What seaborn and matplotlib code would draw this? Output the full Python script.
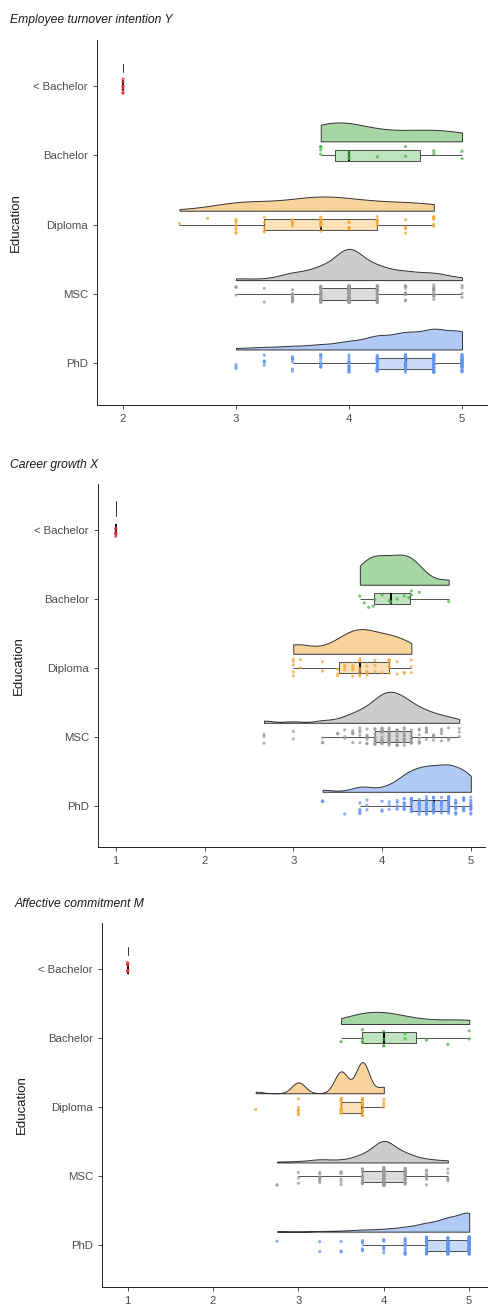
import numpy as np
import pandas as pd
import matplotlib.pyplot as plt
import matplotlib.colors as mcolors
import seaborn as sns

education = ["< Bachelor", "Bachelor", "Diploma", "MSC", "PhD"]
group_colors = ["#E8323A", "#4DAF4A", "#F2A93B", "#9A9A9A", "#6495ED"]

# Employee turnover intention Y : score levels and number of respondents at each level
y_lessbach_levels = [2.0]
y_lessbach_counts = [7]
y_bach_levels = [3.75, 4.0, 4.25, 4.5, 4.75, 5.0]
y_bach_counts = [4, 4, 1, 2, 2, 2]
y_dipl_levels = [2.5, 2.75, 3.0, 3.25, 3.5, 3.75, 4.0, 4.25, 4.5, 4.75]
y_dipl_counts = [1, 1, 8, 5, 6, 12, 7, 6, 5, 6]
y_msc_levels = [3.0, 3.25, 3.5, 3.75, 4.0, 4.25, 4.5, 4.75, 5.0]
y_msc_counts = [3, 2, 12, 20, 55, 22, 14, 12, 4]
y_phd_levels = [3.0, 3.25, 3.5, 3.75, 4.0, 4.25, 4.5, 4.75, 5.0]
y_phd_counts = [3, 5, 7, 10, 16, 27, 33, 40, 37]

# Career growth X
x_lessbach_levels = [1.0]
x_lessbach_counts = [6]
x_bach_levels = [3.75, 3.8, 3.85, 3.9, 3.92, 4.0, 4.08, 4.1, 4.17, 4.25, 4.3, 4.33, 4.42, 4.75]
x_bach_counts = [1, 1, 1, 1, 1, 1, 1, 1, 1, 1, 1, 2, 1, 1]
x_dipl_levels = [3.0, 3.08, 3.33, 3.5, 3.58, 3.67, 3.75, 3.83, 3.92, 4.0, 4.08, 4.17, 4.25, 4.33]
x_dipl_counts = [5, 2, 2, 3, 3, 4, 6, 4, 3, 1, 6, 2, 2, 3]
x_msc_levels = [2.67, 3.0, 3.33, 3.5, 3.58, 3.67, 3.75, 3.83, 3.92, 4.0,
                4.08, 4.17, 4.25, 4.33, 4.42, 4.5, 4.58, 4.67, 4.75, 4.87]
x_msc_counts = [3, 2, 3, 2, 3, 5, 5, 8, 10, 14, 16, 14, 12, 9, 7, 6, 4, 4, 3, 3]
x_phd_levels = [3.33, 3.58, 3.75, 3.83, 4.0, 4.08, 4.17, 4.25, 4.33, 4.42,
                4.5, 4.58, 4.67, 4.75, 4.83, 4.92, 5.0]
x_phd_counts = [3, 1, 5, 3, 3, 3, 5, 9, 12, 12, 13, 13, 13, 15, 12, 11, 12]

# Affective commitment M
m_lessbach_levels = [1.0]
m_lessbach_counts = [7]
m_bach_levels = [3.5, 3.75, 4.0, 4.25, 4.5, 4.75, 5.0]
m_bach_counts = [1, 4, 4, 2, 1, 1, 2]
m_dipl_levels = [2.5, 3.0, 3.5, 3.75, 4.0]
m_dipl_counts = [1, 7, 14, 20, 4]
m_msc_levels = [2.75, 3.0, 3.25, 3.5, 3.75, 4.0, 4.25, 4.5, 4.75]
m_msc_counts = [2, 3, 8, 6, 18, 58, 22, 8, 5]
m_phd_levels = [2.75, 3.25, 3.5, 3.75, 4.0, 4.25, 4.5, 4.75, 5.0]
m_phd_counts = [1, 2, 3, 6, 8, 14, 25, 40, 60]

CLOUD_GAP = 0.2      # flat side of the cloud sits this far above the group line
CLOUD_WIDTH = 0.45


def nrd0(kde):
    # R's default bandwidth (bw.nrd0), returned as a factor of the sd
    x = kde.dataset.ravel()
    sd = x.std(ddof=1)
    if sd == 0:
        return 1.0
    q25, q75 = np.percentile(x, [25, 75])
    lo = min(sd, (q75 - q25) / 1.34) or sd
    return 0.9 * lo * len(x) ** -0.2 / sd


def make_frame(groups):
    frames = []
    for i, (name, (levels, counts)) in enumerate(zip(education, groups)):
        vals = np.repeat(levels, counts)
        frames.append(pd.DataFrame({"Education": name, "score": vals, "pos": float(i)}))
    return pd.concat(frames, ignore_index=True)


def cloud(ax, data, width, **kws):
    # seaborn puts the flat side of a split violin at position + width / 2
    data = data.assign(cloud_pos=data["pos"] - CLOUD_GAP - width / 2)
    sns.violinplot(data=data, x="score", y="cloud_pos", orient="y",
                   native_scale=True, split=True, inner=None, cut=0,
                   width=width, saturation=1, linewidth=0.7,
                   linecolor="#333333", ax=ax, **kws)


def draw_panel(ax, df, xticks, xlim, single_width, label_x):
    palette = dict(zip(education, group_colors))
    spread = df.groupby("Education")["score"].transform("nunique")

    # half violins above each group
    cloud(ax, df[spread > 1], CLOUD_WIDTH, density_norm="area", bw_method=nrd0,
          color="#999999")
    # a group with one single value only gets a short tick
    if (spread == 1).any():
        cloud(ax, df[spread == 1], single_width, color="#333333")
    for coll in list(ax.collections):
        verts = coll.get_paths()[0].vertices
        idx = int(np.clip(round(verts[:, 1].max() + CLOUD_GAP), 0, 4))
        coll.set_facecolor(list(mcolors.to_rgb(group_colors[idx])) + [0.5])

    # raw points
    sns.stripplot(data=df, x="score", y="pos", hue="Education", palette=palette,
                  orient="y", native_scale=True, jitter=0.13, size=2.3, alpha=0.75,
                  linewidth=0, legend=False, ax=ax)

    # boxplots
    n_before = len(ax.patches)
    sns.boxplot(data=df, x="score", y="pos", hue="Education", palette=palette,
                orient="y", native_scale=True, width=0.16, showfliers=False,
                showcaps=False, saturation=1, linewidth=0.6, linecolor="#333333",
                medianprops=dict(color="black", linewidth=1.4), legend=False, ax=ax)
    for patch in ax.patches[n_before:]:
        fc = patch.get_facecolor()
        patch.set_facecolor((fc[0], fc[1], fc[2], 0.35))

    ax.set_yticks(range(len(education)))
    ax.set_yticklabels(education)
    ax.set_ylim(4.6, -0.66)
    ax.set_xticks(xticks)
    ax.set_xlim(*xlim)
    ax.set_xlabel("")
    ax.set_ylabel("Education", fontsize=9.5, color="#1A1A1A")
    ax.yaxis.set_label_coords(label_x, 0.5)
    ax.tick_params(axis="both", labelsize=8.2, labelcolor="#4D4D4D", color="#333333",
                   length=3, width=0.6)
    for side in ["left", "bottom"]:
        ax.spines[side].set_linewidth(0.6)
        ax.spines[side].set_color("black")
    sns.despine(ax=ax)


sns.set_theme(style="ticks")
plt.rcParams["font.family"] = ["Liberation Sans", "DejaVu Sans"]
np.random.seed(3)

fig = plt.figure(figsize=(4.89, 13.07), dpi=100)
W, H = 489, 1307


def add_axes(left, top, right, bottom):
    return fig.add_axes([left / W, 1 - bottom / H, (right - left) / W, (bottom - top) / H])


ax1 = add_axes(97, 40, 488, 405)
ax2 = add_axes(98, 484, 485, 847)
ax3 = add_axes(102, 923, 488, 1287)

df_y = make_frame([(y_lessbach_levels, y_lessbach_counts), (y_bach_levels, y_bach_counts),
                   (y_dipl_levels, y_dipl_counts), (y_msc_levels, y_msc_counts),
                   (y_phd_levels, y_phd_counts)])
df_x = make_frame([(x_lessbach_levels, x_lessbach_counts), (x_bach_levels, x_bach_counts),
                   (x_dipl_levels, x_dipl_counts), (x_msc_levels, x_msc_counts),
                   (x_phd_levels, x_phd_counts)])
df_m = make_frame([(m_lessbach_levels, m_lessbach_counts), (m_bach_levels, m_bach_counts),
                   (m_dipl_levels, m_dipl_counts), (m_msc_levels, m_msc_counts),
                   (m_phd_levels, m_phd_counts)])

# label_x: right edge of the rotated "Education" label, in axes fraction
draw_panel(ax1, df_y, [2, 3, 4, 5], (1.77, 5.23), 0.12, -(97 - 22) / 391)
draw_panel(ax2, df_x, [1, 2, 3, 4, 5], (0.8, 5.16), 0.22, -(98 - 25) / 387)
draw_panel(ax3, df_m, [1, 2, 3, 4, 5], (0.7, 5.22), 0.12, -(102 - 28) / 386)

fig.text(10 / W, 1 - 20 / H, "Employee turnover intention Y", style="italic",
         fontsize=8.7, va="center", color="#1A1A1A")
fig.text(10 / W, 1 - 465 / H, "Career growth X", style="italic",
         fontsize=8.7, va="center", color="#1A1A1A")
fig.text(15 / W, 1 - 904 / H, "Affective commitment M", style="italic",
         fontsize=8.7, va="center", color="#1A1A1A")

fig.savefig("out.png", dpi=100)
